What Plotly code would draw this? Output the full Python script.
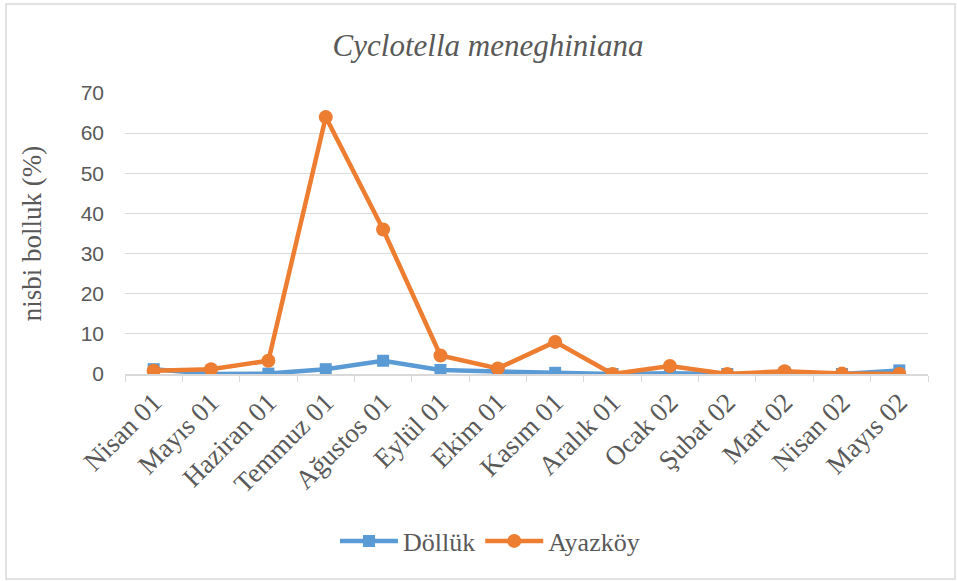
import plotly.graph_objects as go

# Monthly relative abundance of Cyclotella meneghiniana at two stations
months = ["Nisan 01", "Mayıs 01", "Haziran 01", "Temmuz 01", "Ağustos 01", "Eylül 01",
          "Ekim 01", "Kasım 01", "Aralık 01", "Ocak 02", "Şubat 02", "Mart 02",
          "Nisan 02", "Mayıs 02"]
dolluk = [1.2, 0.0, 0.1, 1.2, 3.3, 1.0, 0.6, 0.3, 0.0, 0.2, 0.0, 0.2, 0.0, 0.9]
ayazkoy = [0.8, 1.2, 3.3, 64.0, 36.0, 4.6, 1.4, 8.0, 0.0, 2.0, 0.0, 0.7, 0.1, 0.0]
y_ticks = [0, 10, 20, 30, 40, 50, 60, 70]

W, H = 957, 581
L, R, T, B = 125, 29, 93, 207

serif = "Liberation Serif, Times New Roman, serif"
sans = "Liberation Sans, Arial, sans-serif"
grey = "#595959"

fig = go.Figure()
fig.add_trace(go.Scatter(
    x=months, y=dolluk, name="Döllük", mode="lines+markers",
    line=dict(color="#5B9BD5", width=4.5),
    marker=dict(symbol="square", size=12, color="#5B9BD5"),
))
fig.add_trace(go.Scatter(
    x=months, y=ayazkoy, name="Ayazköy", mode="lines+markers",
    line=dict(color="#ED7D31", width=4.5),
    marker=dict(symbol="circle", size=14, color="#ED7D31"),
))

# outer chart frame
fig.add_shape(type="rect", xref="paper", yref="paper",
              x0=(6 - L) / (W - L - R), x1=(955 - L) / (W - L - R),
              y0=(H - B - 579) / (H - T - B), y1=(H - B - 4) / (H - T - B),
              line=dict(color="#D9D9D9", width=1.5), layer="below")

fig.update_layout(
    width=W, height=H,
    margin=dict(l=L, r=R, t=T, b=B),
    paper_bgcolor="white", plot_bgcolor="white",
    title=dict(text="<i>Cyclotella meneghiniana</i>", x=488 / W, xanchor="center",
               y=1 - 45 / H, yanchor="middle",
               font=dict(family=serif, size=31, color=grey)),
    showlegend=True,
    legend=dict(orientation="h", x=(490 - L) / (W - L - R), xanchor="center",
                y=-(541 - (H - B)) / (H - T - B), yanchor="middle",
                font=dict(family=serif, size=26, color=grey),
                itemwidth=58, traceorder="normal"),
    xaxis=dict(
        type="category", tickangle=-45, tickson="boundaries",
        ticks="outside", ticklen=6, tickcolor="#D9D9D9",
        showline=True, linecolor="#D9D9D9", linewidth=1.5,
        showgrid=False, zeroline=False,
        tickfont=dict(family=serif, size=27, color=grey),
        range=[-0.5, len(months) - 0.5],
    ),
    yaxis=dict(
        range=[0, 70], tickvals=y_ticks, showgrid=True, gridcolor="#D9D9D9",
        gridwidth=1, zeroline=False, showline=False, ticks="",
        ticklabelstandoff=20,
        tickfont=dict(family=sans, size=21, color=grey),
        title=dict(text="nisbi bolluk (%)", standoff=31,
                   font=dict(family=serif, size=27, color=grey)),
    ),
)

fig.write_html("out.html")
